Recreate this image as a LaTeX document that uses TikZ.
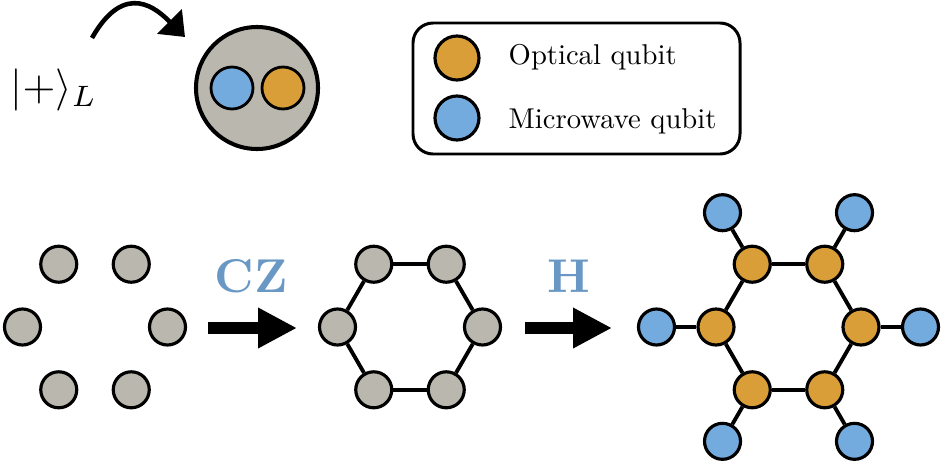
\documentclass[tikz,border=0pt]{standalone}
\usepackage{amsmath}
\usetikzlibrary{arrows.meta}

\definecolor{qgray}{HTML}{BAB8AE}
\definecolor{qorange}{HTML}{DA9E38}
\definecolor{qblue}{HTML}{73ABDF}
\definecolor{gatecol}{HTML}{6A98C4}

\tikzset{
  qubit/.style={circle, draw=black, line width=1.8pt, minimum size=0.72cm, inner sep=0pt},
  rawq/.style={qubit, fill=qgray},
  optq/.style={qubit, fill=qorange},
  mwq/.style={qubit, fill=qblue},
  bond/.style={line width=2.2pt},
  gatearrow/.style={line width=6.5pt, -{Triangle[length=0.78cm,width=0.76cm]}},
  gatelabel/.style={text=gatecol, font=\bfseries},
  keytext/.style={anchor=base west},
}

\begin{document}
\begin{tikzpicture}
    \useasboundingbox (0,0) rectangle (18.88,9.34);
    \pgfmathsetmacro{\hexr}{1.45}
    \pgfmathsetmacro{\leafr}{2.64}
    % logical qubit and its two physical qubits
    \node (ket) at (1.08,7.55) {\scalebox{2.4}{$|+\rangle_L$}};
    \node[circle, draw, line width=2.3pt, fill=qgray, minimum size=2.44cm] (cell) at (5.14,7.58) {};
    \node[mwq, line width=1.6pt, minimum size=0.84cm] (cellmw) at (4.64,7.58) {};
    \node[optq, line width=1.6pt, minimum size=0.84cm] (cellopt) at (5.66,7.58) {};
    \coordinate (bendfrom) at (1.84,8.58);
    \coordinate (bendto) at (3.7,8.6);
    \draw[line width=2.6pt, -{Triangle[length=0.44cm,width=0.68cm]}] (bendfrom) .. controls (2.5,9.75) and (3.15,9.15) .. (bendto);
    % legend
    \node[draw, line width=1.7pt, rounded corners=0.4cm, minimum width=6.54cm, minimum height=2.62cm] (legend) at (11.53,7.57) {};
    \node[optq, minimum size=0.88cm] (keyopt) at (9.14,8.18) {};
    \node[mwq, minimum size=0.88cm] (keymw) at (9.14,6.98) {};
    \node[keytext] (keyopttext) at (10.05,8.06) {\scalebox{1.63}{Optical qubit}};
    \node[keytext] (keymwtext) at (10.05,6.78) {\scalebox{1.63}{Microwave qubit}};
    % six separate qubits
    \begin{scope}[shift={(1.9,2.8)}]
        \foreach \i in {1,...,6}
            \node[rawq] (a\i) at ({60*\i-60}:\hexr) {};
    \end{scope}
    % CZ gates: ring
    \coordinate (czfrom) at (4.16,2.78);
    \coordinate (czto) at (5.94,2.78);
    \draw[gatearrow] (czfrom) -- (czto);
    \node[gatelabel] (czgate) at (5.02,3.82) {\scalebox{2.7}{CZ}};
    \begin{scope}[shift={(8.2,2.8)}]
        \foreach \i in {1,...,6}
            \node[rawq] (b\i) at ({60*\i-60}:\hexr) {};
    \end{scope}
    \foreach \i/\j in {1/2,2/3,3/4,4/5,5/6,6/1}
        \draw[bond] (b\i) -- (b\j);
    % Hadamard: optical ring with microwave leaves
    \coordinate (hfrom) at (10.5,2.78);
    \coordinate (hto) at (12.24,2.78);
    \draw[gatearrow] (hfrom) -- (hto);
    \node[gatelabel] (hgate) at (11.38,3.82) {\scalebox{2.7}{H}};
    \begin{scope}[shift={(15.77,2.8)}]
        \foreach \i in {1,...,6} {
            \node[optq] (c\i) at ({60*\i-60}:\hexr) {};
            \node[mwq] (d\i) at ({60*\i-60}:\leafr) {};
        }
    \end{scope}
    \foreach \i/\j in {1/2,2/3,3/4,4/5,5/6,6/1}
        \draw[bond] (c\i) -- (c\j);
    \foreach \i in {1,...,6}
        \draw[bond] (c\i) -- (d\i);
\end{tikzpicture}
\end{document}
